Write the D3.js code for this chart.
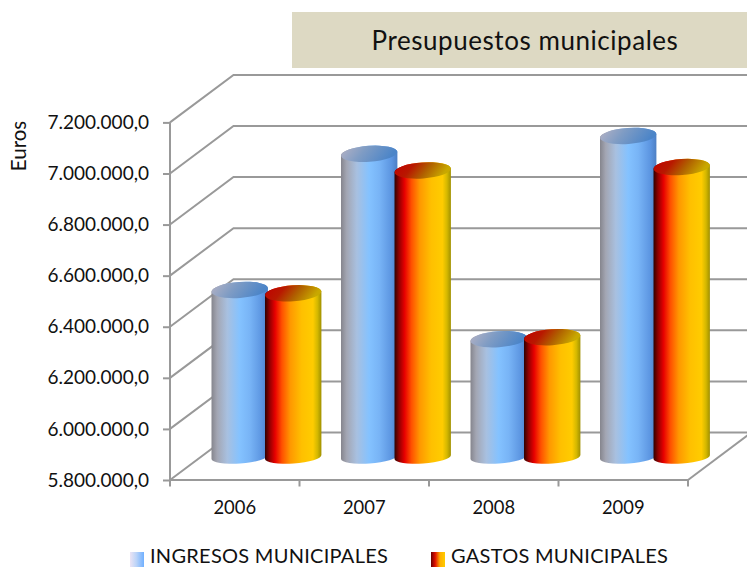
<!DOCTYPE html>
<html><head><meta charset="utf-8">
<script src="https://cdnjs.cloudflare.com/ajax/libs/d3/7.8.5/d3.min.js"></script>
<style>html,body{margin:0;padding:0;background:#fff;overflow:hidden}svg{display:block}text{font-family:Lato,"Open Sans",sans-serif;fill:#111}</style>
</head><body><div id="c"></div>
<script>
const years = ["2006","2007","2008","2009"];
const ingresos = [6454000,6987000,6261000,7057000];
const gastos = [6441000,6922000,6269000,6935000];
const seriesNames = ["INGRESOS MUNICIPALES","GASTOS MUNICIPALES"];
const yTicks = [5800000,6000000,6200000,6400000,6600000,6800000,7000000,7200000];
const title = "Presupuestos municipales";
const yTitle = "Euros";

const W=747,H=567, grid="#999999";
const svg=d3.select("#c").append("svg").attr("width",W).attr("height",H);
const defs=svg.append("defs");
function grad(id,stops,x2,y2){
  const g=defs.append("linearGradient").attr("id",id).attr("x1",0).attr("y1",0).attr("x2",x2).attr("y2",y2);
  stops.forEach(s=>g.append("stop").attr("offset",s[0]).attr("stop-color",s[1]));
}
grad("blueSide",[[0,"#85858d"],[.1,"#a3a6b3"],[.28,"#a8c0e0"],[.5,"#84c2ff"],[.68,"#78b4f6"],[.9,"#5b94e0"],[1,"#4d7fc4"]],1,0);
grad("redSide",[[0,"#300000"],[.08,"#900000"],[.18,"#e80000"],[.3,"#ff5000"],[.45,"#ff9800"],[.65,"#ffc000"],[.85,"#ffcc00"],[.93,"#d4b800"],[1,"#a09000"]],1,0);
grad("blueTop",[[0,"#b4b2c4"],[.45,"#7f9cc4"],[1,"#4c85c8"]],1,0.25);
grad("redTop",[[0,"#c00000"],[.35,"#b81800"],[.65,"#b06000"],[1,"#c8a800"]],1,0.25);
grad("blueLeg",[[0,"#ece4f4"],[.45,"#bcd4f8"],[1,"#70b0ff"]],1,0);
grad("redLeg",[[0,"#6a0000"],[.3,"#e01000"],[.65,"#ffb000"],[1,"#ffcc00"]],1,0);

const y=d3.scaleLinear().domain([5800000,7200000]).range([480,122.4]);
const x=d3.scaleBand().domain(years).range([170,688]);
const inner=d3.scaleBand().domain([0,1]).range([41.5,148.5]);
const dx=63.5, dy=-47.5;          // depth of the 3-D box
const baseOff=-23;                // bars stand mid-depth

// walls
const g=svg.append("g").attr("fill","none").attr("stroke",grid).attr("stroke-width",2);
g.selectAll("path.w").data(yTicks).join("path").attr("class","w")
  .attr("d",v=>`M170,${y(v)}L${170+dx},${y(v)+dy}L${W},${y(v)+dy}`);
g.append("path").attr("d",`M688,480L${688+dx},${480+dy}`);

// axes
const loc=d3.formatLocale({decimal:",",thousands:".",grouping:[3],currency:["","€"]});
const yAxis=d3.axisLeft(y).tickValues(yTicks).tickFormat(loc.format(",.1f")).tickSize(7).tickPadding(14);
const xAxis=d3.axisBottom(x).tickSize(0).tickPadding(21);
const ya=svg.append("g").attr("transform","translate(170,0)").call(yAxis);
const xa=svg.append("g").attr("transform","translate(0,480)").call(xAxis);
[ya,xa].forEach(a=>{a.selectAll("path,line").attr("stroke",grid).attr("stroke-width",2);a.selectAll("text").style("font-family","Lato,sans-serif").attr("fill","#111");});
ya.select(".domain").attr("d","M0,122.4V480");
ya.selectAll("text").attr("font-size",19);
xa.select(".domain").attr("d","M170,0H688");
xa.selectAll("text").attr("font-size",18.4);
xa.selectAll("line.edge").data(d3.range(5)).join("line").attr("class","edge")
  .attr("x1",i=>170+i*x.step()).attr("x2",i=>170+i*x.step()).attr("y1",0).attr("y2",6.5)
  .attr("stroke",grid).attr("stroke-width",2);

// cylinders
const rx=28.2, ryT=8, ryB=6.5, rot=-4;
const sinR=Math.sin(rot*Math.PI/180)*rx;
const series=[{vals:ingresos,side:"blueSide",top:"blueTop",i:0},{vals:gastos,side:"redSide",top:"redTop",i:1}];
const base=480+baseOff;
series.forEach(s=>{
  const bars=svg.append("g");
  years.forEach((yr,k)=>{
    const cx=x(yr)+inner(s.i)+rx;
    const yb=base, yt=y(s.vals[k])+baseOff;
    bars.append("path")
      .attr("d",`M${cx-rx},${yt-sinR}L${cx-rx},${yb-sinR}A${rx},${ryB} ${rot} 0 0 ${cx+rx},${yb+sinR}L${cx+rx},${yt+sinR}A${rx},${ryT} ${rot} 0 0 ${cx-rx},${yt-sinR}Z`)
      .attr("fill",`url(#${s.side})`);
    bars.append("ellipse").attr("cx",cx).attr("cy",yt).attr("rx",rx).attr("ry",ryT)
      .attr("transform",`rotate(${rot} ${cx} ${yt})`).attr("fill",`url(#${s.top})`);
  });
});

// title
svg.append("rect").attr("x",292).attr("y",12).attr("width",455).attr("height",56).attr("fill","#ddd9c3");
svg.append("text").attr("x",525).attr("y",50).attr("text-anchor","middle").attr("font-size",26).attr("letter-spacing",0.55).text(title);

// y title
svg.append("text").attr("transform","translate(26,146) rotate(-90)").attr("text-anchor","middle").attr("font-size",20.5).text(yTitle);

// legend
const legX=[130,431], legTx=[150,451];
seriesNames.forEach((n,i)=>{
  svg.append("rect").attr("x",legX[i]).attr("y",552).attr("width",14).attr("height",15)
    .attr("fill",`url(#${i?"redLeg":"blueLeg"})`);
  svg.append("text").attr("x",legTx[i]).attr("y",562.7).attr("font-size",20).attr("letter-spacing",0.27).text(n);
});
</script></body></html>
